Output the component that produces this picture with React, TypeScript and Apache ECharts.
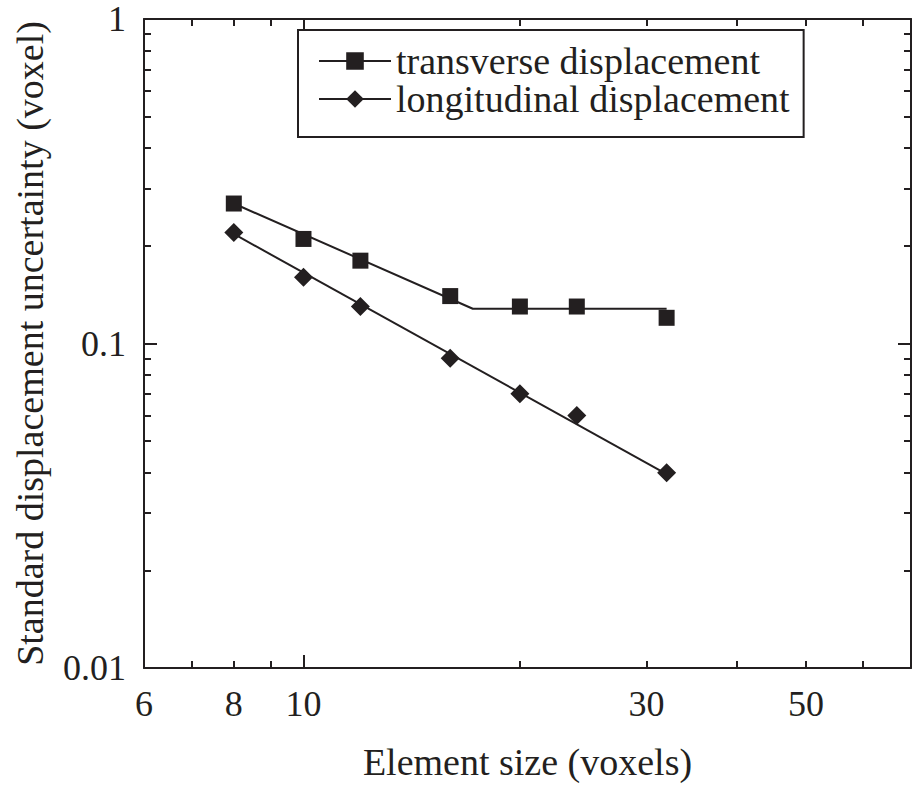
import React, { useEffect, useRef } from "react";
import * as echarts from "echarts";

// ---- data ----
const elementSizes = [8, 10, 12, 16, 20, 24, 32];
const transverseValues = [0.27, 0.21, 0.18, 0.14, 0.13, 0.13, 0.12];
const longitudinalValues = [0.22, 0.16, 0.13, 0.09, 0.07, 0.06, 0.04];

const transverseFitX = [8, 17.2, 32];
const transverseFitY = [0.27, 0.128, 0.128];
const longitudinalFitX = [8, 32];
const longitudinalFitY = [0.2175, 0.0396];

const seriesNames = ["transverse displacement", "longitudinal displacement"];

const xRange = [6, 70];
const yRange = [0.01, 1];
const xLabelValues = [6, 8, 10, 30, 50];
const xMinorTicks = [7, 8, 9, 20, 30, 40, 50, 60];
const xMajorTicks = [10];
const yLabelValues = [1, 0.1, 0.01];
const yMinorTicks = [0.02, 0.03, 0.04, 0.05, 0.06, 0.07, 0.08, 0.09, 0.2, 0.3, 0.4, 0.5, 0.6, 0.7, 0.8, 0.9];
const yMajorTicks = [0.1];

const xTitle = "Element size (voxels)";
const yTitle = "Standard displacement uncertainty (voxel)";

// ---- styling ----
const INK = "#231f20";
const FONT = '"Liberation Serif", "Times New Roman", Times, serif';
const L = (v: number) => Math.log10(v);
const zip = (xs: number[], ys: number[]) => xs.map((x, i) => [x, ys[i]]);

const gridRect = { left: 144, right: 2, top: 19, bottom: 120, containLabel: false, outerBoundsMode: "none" };

const axisLineStyle = { color: INK, width: 2 };

function logAxis(gridIndex: number, position: string, range: number[]) {
  return {
    gridIndex,
    type: "log",
    logBase: 10,
    min: range[0],
    max: range[1],
    position,
    axisLine: { show: true, onZero: false, lineStyle: axisLineStyle },
    axisTick: { show: false },
    axisLabel: { show: false },
    splitLine: { show: false },
    minorTick: { show: false },
    minorSplitLine: { show: false },
  };
}

function tickAxis(gridIndex: number, position: string, range: number[], ticks: number[], len: number) {
  return {
    gridIndex,
    type: "value",
    min: L(range[0]),
    max: L(range[1]),
    position,
    axisLine: { show: false, onZero: false },
    axisTick: {
      show: true,
      inside: true,
      length: len,
      customValues: ticks.map(L),
      lineStyle: { color: INK, width: 2 },
    },
    axisLabel: { show: false },
    splitLine: { show: false },
  };
}

const fmt = (v: number) => String(parseFloat(Math.pow(10, v).toPrecision(3)));

export default function App() {
  const ref = useRef<HTMLDivElement>(null);

  useEffect(() => {
    if (!ref.current) return;
    const chart = echarts.init(ref.current, undefined, { renderer: "svg" });

    const xLabelAxis: any = tickAxis(1, "bottom", xRange, xMinorTicks, 7);
    xLabelAxis.axisLabel = {
      show: true,
      customValues: xLabelValues.map(L),
      formatter: fmt,
      margin: 18,
      color: INK,
      fontFamily: FONT,
      fontSize: 36,
    };
    xLabelAxis.name = xTitle;
    xLabelAxis.nameLocation = "middle";
    xLabelAxis.nameGap = 75;
    xLabelAxis.nameMoveOverlap = false;
    xLabelAxis.nameTextStyle = { color: INK, fontFamily: FONT, fontSize: 38 };

    const yLabelAxis: any = tickAxis(1, "left", yRange, yMinorTicks, 7);
    yLabelAxis.axisLabel = {
      show: true,
      customValues: yLabelValues.map(L),
      formatter: fmt,
      margin: 18,
      color: INK,
      fontFamily: FONT,
      fontSize: 36,
    };
    yLabelAxis.name = yTitle;
    yLabelAxis.nameLocation = "middle";
    yLabelAxis.nameGap = 95;
    yLabelAxis.nameMoveOverlap = false;
    yLabelAxis.nameTextStyle = { color: INK, fontFamily: FONT, fontSize: 38 };

    const option: any = {
      animation: false,
      backgroundColor: "#ffffff",
      grid: [gridRect, gridRect, gridRect],
      xAxis: [
        logAxis(0, "bottom", xRange),
        logAxis(0, "top", xRange),
        xLabelAxis,
        tickAxis(1, "top", xRange, xMinorTicks, 7),
        tickAxis(2, "bottom", xRange, xMajorTicks, 13),
        tickAxis(2, "top", xRange, xMajorTicks, 13),
      ],
      yAxis: [
        logAxis(0, "left", yRange),
        logAxis(0, "right", yRange),
        yLabelAxis,
        tickAxis(1, "right", yRange, yMinorTicks, 7),
        tickAxis(2, "left", yRange, yMajorTicks, 13),
        tickAxis(2, "right", yRange, yMajorTicks, 13),
      ],
      legend: {
        data: seriesNames,
        orient: "vertical",
        left: 298,
        top: 30,
        padding: [12, 14, 19, 20],
        itemGap: 0,
        itemWidth: 72,
        itemHeight: 22,
        borderColor: INK,
        borderWidth: 2,
        backgroundColor: "#ffffff",
        selectedMode: false,
        textStyle: { color: INK, fontFamily: FONT, fontSize: 38, lineHeight: 38 },
      },
      series: [
        {
          name: seriesNames[0],
          type: "line",
          xAxisIndex: 0,
          yAxisIndex: 0,
          data: zip(transverseFitX, transverseFitY),
          symbol: "rect",
          showSymbol: false,
          lineStyle: { color: INK, width: 2 },
          itemStyle: { color: INK },
          silent: true,
          z: 3,
        },
        {
          name: seriesNames[1],
          type: "line",
          xAxisIndex: 0,
          yAxisIndex: 0,
          data: zip(longitudinalFitX, longitudinalFitY),
          symbol: "diamond",
          showSymbol: false,
          lineStyle: { color: INK, width: 2 },
          itemStyle: { color: INK },
          silent: true,
          z: 3,
        },
        {
          name: "transverse data",
          type: "scatter",
          xAxisIndex: 0,
          yAxisIndex: 0,
          data: zip(elementSizes, transverseValues),
          symbol: "rect",
          symbolSize: 16,
          itemStyle: { color: INK, opacity: 1 },
          silent: true,
          z: 4,
        },
        {
          name: "longitudinal data",
          type: "scatter",
          xAxisIndex: 0,
          yAxisIndex: 0,
          data: zip(elementSizes, longitudinalValues),
          symbol: "diamond",
          symbolSize: 19,
          itemStyle: { color: INK, opacity: 1 },
          silent: true,
          z: 4,
        },
      ],
    };

    chart.setOption(option);
    return () => chart.dispose();
  }, []);

  return (
    <div
      ref={ref}
      style={{ position: "fixed", left: 0, top: 0, width: 913, height: 788, background: "#fff" }}
    />
  );
}
